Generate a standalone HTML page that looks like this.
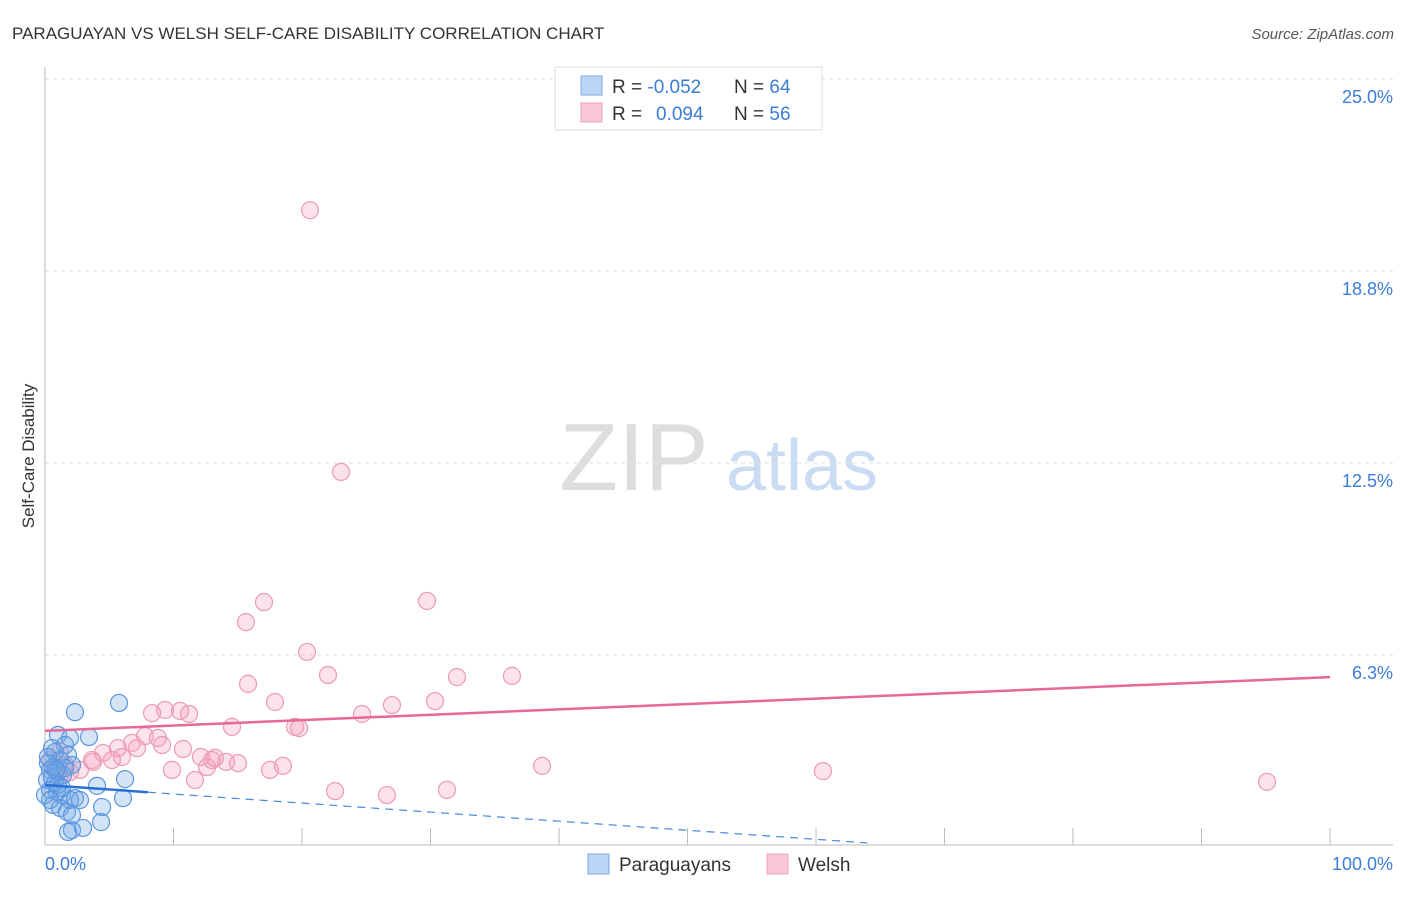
<!DOCTYPE html>
<html><head><meta charset="utf-8"><style>
body{margin:0;background:#fff;font-family:"Liberation Sans",sans-serif}
svg text{font-family:"Liberation Sans",sans-serif}
</style></head><body>
<svg id="chart" width="1406" height="892" xmlns="http://www.w3.org/2000/svg">
<text x="12" y="39" font-size="17" fill="#333">PARAGUAYAN VS WELSH SELF-CARE DISABILITY CORRELATION CHART</text>
<text x="1394" y="39" font-size="15" fill="#555" font-style="italic" text-anchor="end">Source: ZipAtlas.com</text>
<g><text x="634" y="490" font-size="96" fill="#ddd" font-family="Liberation Serif" text-anchor="middle">ZIP</text><text x="802" y="490" font-size="72" fill="#c9dcf3" text-anchor="middle">atlas</text></g>
<g id="grid"></g><g id="axes"></g><g id="pts"></g><g id="trends"></g>
<text transform="translate(34,456) rotate(-90)" font-size="17" fill="#333" text-anchor="middle">Self-Care Disability</text>
<text x="45" y="870" font-size="18" fill="#3b7dd8">0.0%</text>
<text x="1393" y="870" font-size="18" fill="#3b7dd8" text-anchor="end">100.0%</text>
<g>
<rect x="555" y="67" width="267" height="63" fill="#fff" stroke="#ddd"/>
<rect x="581" y="76" width="21" height="19" fill="#bcd5f5" stroke="#7aaae6"/>
<rect x="581" y="103" width="21" height="19" fill="#f8c8d8" stroke="#eea0bb"/>
<text x="612" y="93" font-size="19" fill="#333">R = <tspan fill="#3b7dd8">-0.052</tspan></text>
<text x="734" y="93" font-size="19" fill="#333">N = <tspan fill="#3b7dd8">64</tspan></text>
<text x="612" y="120" font-size="19" fill="#333">R = <tspan fill="#3b7dd8" x="656">0.094</tspan></text>
<text x="734" y="120" font-size="19" fill="#333">N = <tspan fill="#3b7dd8">56</tspan></text>
</g>
<g>
<rect x="588" y="854" width="21" height="20" fill="#bcd5f5" stroke="#7aaae6"/>
<text x="619" y="871" font-size="19" fill="#333">Paraguayans</text>
<rect x="767" y="854" width="21" height="20" fill="#f8c8d8" stroke="#eea0bb"/>
<text x="798" y="871" font-size="19" fill="#333">Welsh</text>
</g>
</svg>
<script>
const yTicks=[25,18.75,12.5,6.25];
const yTickLabels=["25.0%","18.8%","12.5%","6.3%"];
const blueX=[2.33,5.76,1.01,3.42,1.95,1.56,0.54,0.78,1.79,1.17,0.23,2.10,0.39,1.01,1.40,0.54,0.16,0.78,4.05,6.23,0.39,0.93,1.32,2.33,6.07,1.95,2.72,0.62,1.17,4.44,1.71,2.10,4.36,2.10,1.79,2.96,0.23,0.62,1.56,1.01,0,1.32,0.39,0.86];
const blueY=[4.39,4.69,3.65,3.58,3.55,3.32,3.22,3.09,2.99,2.83,2.73,2.67,2.51,2.44,2.34,2.25,2.18,2.08,1.99,2.21,1.86,1.79,1.69,1.59,1.59,1.53,1.53,1.37,1.27,1.30,1.14,1.04,0.81,0.55,0.49,0.62,2.93,2.60,2.57,2.02,1.69,1.92,1.53,2.51];
const pinkX=[20.62,23.04,17.04,29.73,15.64,20.39,15.80,22.02,32.06,36.34,17.90,30.35,27.00,24.67,9.34,8.33,10.51,11.21,14.55,19.46,19.77,7.78,8.79,10.74,5.68,6.77,9.11,7.16,4.51,5.99,5.21,3.74,12.14,13.00,14.09,15.02,13.23,12.61,17.51,18.52,38.68,60.54,9.88,2.72,1.56,1.17,11.67,22.57,26.61,31.28,95.10,3.66,1.95,0.78,0.39,1.17];
const pinkY=[20.73,12.21,7.97,8.01,7.32,6.35,5.31,5.60,5.53,5.57,4.72,4.75,4.62,4.33,4.46,4.36,4.43,4.33,3.91,3.91,3.87,3.61,3.55,3.19,3.22,3.39,3.32,3.22,3.06,2.93,2.83,2.77,2.93,2.83,2.77,2.73,2.90,2.60,2.51,2.64,2.64,2.47,2.51,2.51,2.67,2.34,2.18,1.82,1.69,1.86,2.12,2.83,2.44,2.57,2.83,3.09];
const blueTrend=[2.02,-0.0295];
const pinkTrend=[3.78,0.0175];
const X0=45,X1=1330,Y0=847;
const sx=v=>X0+(X1-X0)*v/100, sy=v=>Y0-v*192/6.25;
const NS="http://www.w3.org/2000/svg";
function mk(tag,attrs,parent){const e=document.createElementNS(NS,tag);for(const k in attrs)e.setAttribute(k,attrs[k]);parent.appendChild(e);return e;}
const grid=document.getElementById('grid'),axes=document.getElementById('axes'),pts=document.getElementById('pts'),tr=document.getElementById('trends');
yTicks.forEach((t,i)=>{
 const l=mk('line',{x1:X0,x2:1393,y1:sy(t),y2:sy(t),stroke:'#ddd','stroke-dasharray':'4,4'},grid);
 
 
 const tx=mk('text',{x:1393,y:sy(t)+24,'font-size':18,fill:'#3b7dd8','text-anchor':'end'},grid);
 tx.textContent=yTickLabels[i];
 
 
});
const ya=mk('line',{x1:X0,x2:X0,y1:67,y2:845,stroke:'#bbb'},axes);


const xa=mk('line',{x1:X0,x2:1393,y1:845,y2:845,stroke:'#bbb'},axes);


for(let i=0;i<=10;i++){
 const t=mk('line',{x1:sx(i*10),x2:sx(i*10),y1:828,y2:845,stroke:'#bbb'},axes);
 
 
}
pinkX.forEach((x,i)=>{
 const c=mk('circle',{cx:sx(x),cy:sy(pinkY[i]),r:8.5,fill:'rgba(244,160,190,0.3)',stroke:'#eb9ab6','stroke-width':1.2},pts);
 
 
});
blueX.forEach((x,i)=>{
 const c=mk('circle',{cx:sx(x),cy:sy(blueY[i]),r:8.5,fill:'rgba(110,165,230,0.3)',stroke:'#5b95e0','stroke-width':1.2},pts);
 
 
});
const pl=mk('line',{x1:sx(0),y1:sy(pinkTrend[0]),x2:sx(100),y2:sy(pinkTrend[0]+pinkTrend[1]*100),stroke:'#e8679a','stroke-width':2.5},tr);


const bs=mk('line',{x1:sx(0),y1:sy(blueTrend[0]),x2:sx(8),y2:sy(blueTrend[0]+blueTrend[1]*8),stroke:'#2a6fd6','stroke-width':2.5},tr);


const bd=mk('line',{x1:sx(8),y1:sy(blueTrend[0]+blueTrend[1]*8),x2:sx(64),y2:sy(blueTrend[0]+blueTrend[1]*64),stroke:'#4a85dd','stroke-width':1.2,'stroke-dasharray':'8,6'},tr);


</script>
</body></html>
